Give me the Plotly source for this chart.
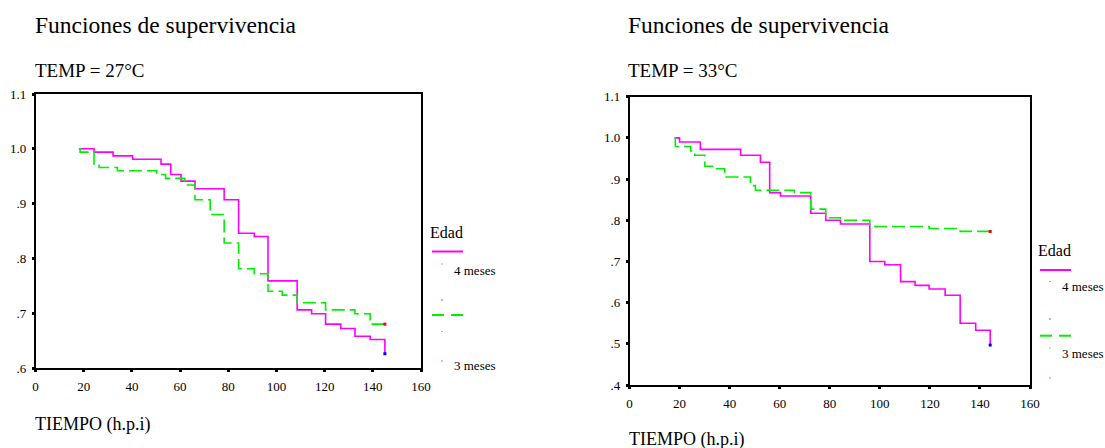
import plotly.graph_objects as go

# ---------------- data ----------------
# Left panel: TEMP = 27°C
t27_4m = [18, 24.3, 32.2, 40.3, 52.1, 56.1, 60.4, 66.2, 78.3, 84.3, 90.8, 96.5, 108.6, 114.6, 120.4, 126.7, 132.6, 138.9, 145]
s27_4m = [1.0, 0.994, 0.987, 0.981, 0.972, 0.953, 0.941, 0.927, 0.907, 0.846, 0.840, 0.759, 0.706, 0.699, 0.680, 0.672, 0.658, 0.652, 0.626]
t27_3m = [18, 18.5, 24.3, 26.4, 34, 50.3, 54, 62, 66.2, 72.5, 78.3, 84.3, 90.8, 96.5, 102.4, 108.6, 120.4, 132.6, 138.9, 145]
s27_3m = [1.0, 0.994, 0.972, 0.966, 0.960, 0.953, 0.946, 0.934, 0.907, 0.880, 0.828, 0.781, 0.772, 0.740, 0.733, 0.719, 0.706, 0.699, 0.680, 0.680]

# Right panel: TEMP = 33°C
t33_4m = [18, 20, 28.3, 44.4, 52.3, 56, 60.3, 72.4, 78.4, 84.3, 96, 102, 108.3, 114.1, 119.7, 126.1, 132.1, 138.3, 144.1]
s33_4m = [1.0, 0.990, 0.972, 0.958, 0.941, 0.867, 0.859, 0.817, 0.800, 0.791, 0.700, 0.692, 0.651, 0.642, 0.633, 0.618, 0.550, 0.533, 0.497]
t33_3m = [18, 18.3, 24.4, 26.1, 30.1, 34, 38, 48.3, 50.3, 65.9, 72.4, 78.4, 84.3, 96, 119.7, 132.1, 144.1]
s33_3m = [1.0, 0.979, 0.968, 0.958, 0.931, 0.925, 0.905, 0.884, 0.873, 0.867, 0.827, 0.806, 0.800, 0.785, 0.780, 0.773, 0.773]

x_ticks = [0, 20, 40, 60, 80, 100, 120, 140, 160]
y_ticks_27 = [0.6, 0.7, 0.8, 0.9, 1.0, 1.1]
y_text_27 = [".6", ".7", ".8", ".9", "1.0", "1.1"]
y_ticks_33 = [0.4, 0.5, 0.6, 0.7, 0.8, 0.9, 1.0, 1.1]
y_text_33 = [".4", ".5", ".6", ".7", ".8", ".9", "1.0", "1.1"]

titles = ["Funciones de supervivencia", "Funciones de supervivencia"]
subtitles = ["TEMP = 27°C", "TEMP = 33°C"]
xlabel = "TIEMPO (h.p.i)"
legend_title = "Edad"
groups = ["4 meses", "3 meses"]

MAGENTA = "#FF00FF"
GREEN = "#00F000"
FONT = "'Liberation Serif', 'Times New Roman', 'DejaVu Serif', serif"
W, H = 1105, 448

def px(x):
    return x / W

def py(y):
    return 1 - y / H

fig = go.Figure()

def add_panel(t4, s4, t3, s3, xa, ya):
    fig.add_trace(go.Scatter(x=t4, y=s4, mode="lines", line=dict(color=MAGENTA, width=1.6, shape="hv"),
                             xaxis=xa, yaxis=ya, showlegend=False, hoverinfo="skip"))
    fig.add_trace(go.Scatter(x=t3, y=s3, mode="lines", line=dict(color=GREEN, width=1.6, shape="hv", dash="13px,5px"),
                             xaxis=xa, yaxis=ya, showlegend=False, hoverinfo="skip"))
    fig.add_trace(go.Scatter(x=[t4[-1]], y=[s4[-1]], mode="markers",
                             marker=dict(color="#0000FF", size=3, symbol="square"),
                             xaxis=xa, yaxis=ya, showlegend=False, hoverinfo="skip"))
    fig.add_trace(go.Scatter(x=[t3[-1]], y=[s3[-1]], mode="markers",
                             marker=dict(color="#FF0000", size=3, symbol="square"),
                             xaxis=xa, yaxis=ya, showlegend=False, hoverinfo="skip"))

add_panel(t27_4m, s27_4m, t27_3m, s27_3m, "x", "y")
add_panel(t33_4m, s33_4m, t33_3m, s33_3m, "x2", "y2")

axis_common = dict(showline=True, linecolor="black", linewidth=1.5, mirror=True, automargin=False,
                   showgrid=False, zeroline=False, ticks="outside", ticklen=2, tickwidth=3,
                   tickcolor="black", tickfont=dict(family=FONT, size=13, color="black"))

fig.update_layout(
    width=W, height=H, margin=dict(l=0, r=0, t=0, b=0, pad=0), autosize=False,
    paper_bgcolor="white", plot_bgcolor="white",
    font=dict(family=FONT, color="black"),
    xaxis=dict(domain=[px(35.5), px(421)], range=[0, 160], tickvals=x_ticks,
               ticklabelstandoff=4, anchor="y", **axis_common),
    yaxis=dict(domain=[py(368), py(94)], range=[0.6, 1.1], tickvals=y_ticks_27, ticktext=y_text_27,
               ticklabelstandoff=3, anchor="x", **axis_common),
    xaxis2=dict(domain=[px(629.5), px(1030)], range=[0, 160], tickvals=x_ticks,
                ticklabelstandoff=4, anchor="y2", **axis_common),
    yaxis2=dict(domain=[py(385), py(96.7)], range=[0.4, 1.1], tickvals=y_ticks_33, ticktext=y_text_33,
                ticklabelstandoff=3, anchor="x2", **axis_common),
)

ann = []
shapes = []

def text(x, y, s, size):
    ann.append(dict(x=px(x), y=py(y), xref="paper", yref="paper", text=s, showarrow=False,
                    xanchor="left", yanchor="middle", font=dict(family=FONT, size=size, color="black")))

def dot(x, y, color):
    shapes.append(dict(type="rect", xref="paper", yref="paper", x0=px(x - 0.6), x1=px(x + 0.6),
                       y0=py(y + 0.6), y1=py(y - 0.6), line=dict(width=0), fillcolor=color))

def seg(x0, x1, y, color):
    shapes.append(dict(type="line", xref="paper", yref="paper", x0=px(x0), x1=px(x1), y0=py(y), y1=py(y),
                       line=dict(color=color, width=2)))

# titles
text(33, 25, titles[0], 23.5)
text(33, 70, subtitles[0], 19)
text(626, 25, titles[1], 23.5)
text(626, 70, subtitles[1], 19)
text(33, 424, xlabel, 18)
text(627, 439.5, xlabel, 18)

# legends
legs = [
    dict(x=428, ty=232, l4=251.5, d4=264, t4=270, blue=300, l3=315, d3=331.5, red=361, t3=365),
    dict(x=1036, ty=250, l4=270, d4=281.5, t4=286.7, blue=319, l3=335.7, d3=348, red=378, t3=353),
]
for L in legs:
    x0 = L["x"]
    text(x0, L["ty"], legend_title, 16)
    seg(x0 + 4, x0 + 35, L["l4"], MAGENTA)
    dot(x0 + 14, L["d4"], MAGENTA)
    text(x0 + 24, L["t4"], groups[0], 13)
    dot(x0 + 14, L["blue"], "#0000FF")
    seg(x0 + 4, x0 + 16, L["l3"], GREEN)
    seg(x0 + 23, x0 + 35, L["l3"], GREEN)
    dot(x0 + 14, L["d3"], GREEN)
    dot(x0 + 14, L["red"], "#FF0000")
    text(x0 + 24, L["t3"], groups[1], 13)

fig.update_layout(annotations=ann, shapes=shapes)
fig.write_html("out.html", config={"displayModeBar": False},
               post_script="document.body.style.margin='0px';document.body.style.padding='0px';")
